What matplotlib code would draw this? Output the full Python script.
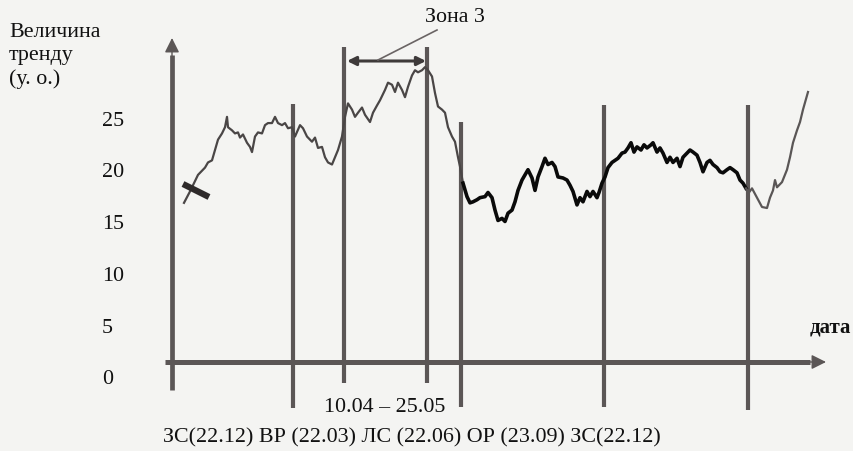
import matplotlib
matplotlib.use("Agg")
import matplotlib.pyplot as plt

# ---------------- data (time index, trend value) ----------------
t_start = [184, 190, 198, 205, 208, 212, 215, 218, 222, 225, 227, 228, 232, 235, 238, 240,
           243, 247, 250, 252, 255, 258, 262, 265, 268, 272, 275, 278, 282, 285, 288, 292,
           295, 300, 303, 307, 312, 315, 318, 322, 325, 328, 332, 335, 338, 342, 345, 348,
           352, 355, 358, 362, 365, 370, 373, 377, 380, 385, 388, 392, 395, 398, 402, 405,
           408, 412, 415, 418, 422, 425, 428, 432, 435, 438, 442, 445, 448, 452, 455, 458,
           460, 463]
v_start = [17.1, 18.2, 19.8, 20.5, 21.0, 21.2, 22.2, 23.2, 23.8, 24.4, 25.4, 24.4, 24.1, 23.8,
           23.9, 23.4, 23.7, 22.9, 22.5, 22.0, 23.5, 23.9, 23.8, 24.6, 24.8, 24.8, 25.4, 24.8,
           24.6, 24.8, 24.3, 24.4, 23.5, 24.6, 24.3, 23.5, 23.0, 23.4, 22.4, 22.5, 21.5, 21.0,
           20.8, 21.5, 22.2, 23.5, 25.4, 26.7, 26.1, 25.4, 25.8, 26.3, 25.6, 24.9, 25.8, 26.5,
           27.0, 28.0, 28.7, 28.5, 27.8, 28.7, 28.0, 27.3, 28.3, 29.4, 29.9, 29.7, 29.9, 30.2,
           29.9, 29.3, 27.7, 26.4, 26.1, 25.8, 24.4, 23.5, 23.0, 21.5, 20.6, 19.0]

t_mid = [463, 467, 470, 473, 477, 480, 485, 488, 492, 495, 498, 502, 505, 508, 512, 515, 518,
         522, 525, 528, 532, 535, 538, 542, 545, 548, 552, 555, 558, 563, 567, 570, 573, 577,
         580, 583, 587, 590, 593, 597, 599, 602, 605, 608, 612, 615, 618, 622, 625, 628, 631,
         634, 637, 641, 644, 647, 651, 653, 657, 660, 663, 667, 670, 673, 677, 680, 683, 687,
         690, 693, 697, 700, 703, 707, 710, 713, 717, 720, 723, 727, 730, 733, 737, 740, 743,
         746]
v_mid = [19.0, 17.7, 17.1, 17.2, 17.4, 17.6, 17.7, 18.1, 17.6, 16.4, 15.4, 15.6, 15.3, 16.1,
         16.4, 17.2, 18.3, 19.3, 19.8, 20.3, 19.5, 18.3, 19.6, 20.6, 21.4, 20.8, 21.0, 20.6,
         19.6, 19.5, 19.3, 18.8, 18.2, 16.9, 17.6, 17.2, 18.2, 17.7, 18.2, 17.6, 18.1, 19.0,
         19.6, 20.5, 21.0, 21.2, 21.4, 21.9, 22.0, 22.4, 22.9, 22.0, 22.5, 22.2, 22.7, 22.4,
         22.7, 22.9, 22.0, 22.4, 21.9, 21.0, 21.5, 21.0, 21.4, 20.6, 21.5, 21.9, 22.2, 22.0,
         21.7, 21.0, 20.1, 21.0, 21.2, 20.8, 20.5, 20.1, 20.0, 20.3, 20.5, 20.3, 20.0, 19.3,
         19.0, 18.5]

t_end = [746, 749, 752, 757, 762, 767, 770, 773, 775, 777, 782, 787, 790, 793, 797, 800, 803, 808]
v_end = [18.5, 18.1, 18.5, 17.6, 16.7, 16.6, 17.6, 18.3, 19.3, 18.6, 19.1, 20.3, 21.5, 22.9,
         24.1, 24.9, 26.1, 27.8]

boundaries = [293, 344, 427, 461, 604, 748]
tick_values = [25, 20, 15, 10, 5, 0]
y_title = "Величина\nтренду\n(у. о.)"
x_title = "дата"
zone_label = "Зона 3"
zone_dates = "10.04 – 25.05"
season_labels = "ЗС(22.12) ВР (22.03) ЛС (22.06) ОР (23.09) ЗС(22.12)"

# ---------------- drawing ----------------
W, H = 854, 451
PX = 10.36  # pixels per unit
Y0 = 380    # pixel row of value 0


def v(py):
    return (Y0 - py) / PX


bg = "#f4f4f2"
grey = "#5b5656"
FS = 15.8
fig = plt.figure(figsize=(W / 100, H / 100), dpi=100, facecolor=bg)
ax = fig.add_axes([0, 0, 1, 1])
ax.set_facecolor(bg)
ax.set_xlim(0, W)
ax.set_ylim(v(H), v(0))
ax.axis("off")

serif = ["Liberation Serif", "DejaVu Serif"]

# vertical boundary lines (top, bottom in pixel rows)
tops = [104, 47, 47, 122, 105, 105]
bots = [408, 383, 383, 407, 407, 410]
for xb, tp, bt in zip(boundaries, tops, bots):
    ax.plot([xb, xb], [v(tp), v(bt)], color=grey, lw=3.0, solid_capstyle="butt", zorder=2)

# y axis with arrow
ax.plot([172, 172], [v(390), v(55)], color=grey, lw=3.4, solid_capstyle="butt", zorder=2)
ax.annotate("", xy=(172, v(38)), xytext=(172, v(60)),
            arrowprops=dict(arrowstyle="-|>", color=grey, lw=1, mutation_scale=22,
                            shrinkA=0, shrinkB=0), zorder=3)
# x axis with arrow
ax.plot([165, 810], [v(362), v(362)], color=grey, lw=3.6, solid_capstyle="butt", zorder=2)
ax.annotate("", xy=(826, v(362)), xytext=(805, v(362)),
            arrowprops=dict(arrowstyle="-|>", color=grey, lw=1, mutation_scale=22,
                            shrinkA=0, shrinkB=0), zorder=3)

# trend curve
ax.plot(t_start, v_start, color="#4a4646", lw=1.6, zorder=4, solid_joinstyle="round")
ax.plot(t_mid, v_mid, color="#0a0a0a", lw=2.6, zorder=4, solid_joinstyle="round")
ax.plot(t_end, v_end, color="#5a5656", lw=1.6, zorder=4, solid_joinstyle="round")

# cross mark at the start
ax.plot([183, 209], [v(184), v(197)], color="#2e2a2a", lw=4.5, solid_capstyle="butt", zorder=5)

# zone 3 double arrow and pointer
ax.annotate("", xy=(347, v(61)), xytext=(426, v(61)),
            arrowprops=dict(arrowstyle="<|-|>", color="#3e3a3a", lw=2.2, mutation_scale=13,
                            shrinkA=0, shrinkB=0), zorder=5)
ax.plot([437, 378], [v(30), v(60)], color="#6a6464", lw=1.2, zorder=5)

# texts
ax.text(455, v(17), zone_label, ha="center", va="center", fontsize=FS, family=serif, color="#111")
ax.text(9, v(56), y_title, ha="left", va="center", fontsize=FS, family=serif, color="#111",
        linespacing=1.32)
for tv in tick_values:
    ax.text(102, tv, str(tv), ha="left", va="center", fontsize=FS, family=serif, color="#111")
ax.text(851, v(328), x_title, ha="right", va="center", fontsize=FS - 0.8, family=serif,
        fontweight="bold", color="#111")
ax.text(385, v(408), zone_dates, ha="center", va="center", fontsize=FS, family=serif, color="#111")
ax.text(412, v(438), season_labels, ha="center", va="center", fontsize=FS, family=serif,
        color="#111")

fig.savefig("out.png", dpi=100, facecolor=bg)
